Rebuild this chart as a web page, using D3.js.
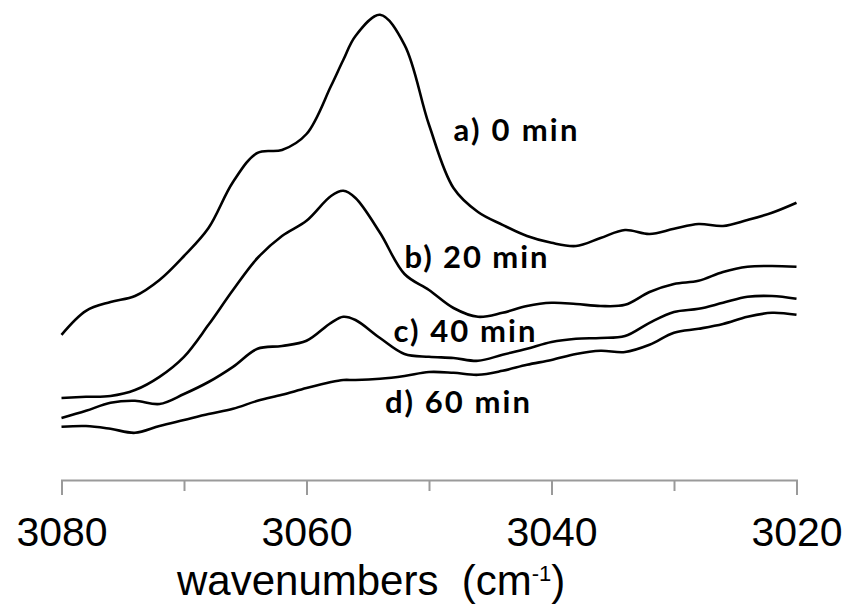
<!DOCTYPE html>
<html>
<head>
<meta charset="utf-8">
<script src="https://cdn.jsdelivr.net/npm/d3@7"></script>
<style>
  body{margin:0;background:#fff;}
  svg{display:block;}
</style>
</head>
<body>
<svg id="chart" width="850" height="609"></svg>
<script>
// wavenumber grid (cm-1); extra point at 3057 for the b/c peaks
var wavenumbers=[3080,3078,3076,3074,3072,3070,3068,3066,3064,3062,3060,3058,3057,3056,3054,3052,3050,3048,3046,3044,3042,3040,3038,3036,3034,3032,3030,3028,3026,3024,3022,3020];

// absorbance, arbitrary units
var min0 =[36.3,42.3,44.5,46.0,50.0,56.0,63.0,74.5,81.8,82.5,86.5,98.5,105.0,111.0,116.3,108.8,88.8,73.0,67.0,63.8,61.0,59.3,58.5,60.5,62.5,61.5,62.8,64.0,63.5,65.0,66.8,69.3];
var min20=[20.5,20.8,21.0,22.5,25.8,30.8,38.8,47.5,55.5,61.0,64.8,71.0,72.3,70.5,61.8,51.5,47.5,43.0,40.8,41.8,43.5,44.3,44.0,43.5,43.8,47.0,49.0,49.8,52.0,53.3,53.5,53.3];
var min40=[15.5,17.3,19.3,19.8,19.0,21.5,24.5,28.3,32.8,33.5,34.8,39.3,40.8,40.0,35.5,31.5,30.8,30.5,29.8,31.3,32.8,34.5,35.3,35.5,36.0,39.3,42.0,42.8,44.3,45.8,46.0,45.3];
var min60=[13.3,13.5,12.8,11.8,13.5,15.0,16.5,17.8,19.8,21.3,23.0,24.5,25.0,25.0,25.3,26.0,27.0,26.8,26.3,27.3,28.8,30.0,31.5,32.3,32.0,33.8,36.8,37.8,39.0,40.8,41.8,41.3];

var labels=['a) 0 min','b) 20 min','c) 40 min','d) 60 min'];
// where each label starts, as wavenumber / absorbance
var labelWn=[3048.0,3052.0,3052.9,3053.6];
var labelAbs=[84.8,53.0,34.5,16.8];
var labelWidth=[124,143,142,145];

var tickMajor=[3080,3060,3040,3020];
var tickMinor=[3070,3050,3030];

var svg=d3.select('#chart');
var x=d3.scaleLinear().domain([3080,3020]).range([61.5,796.5]);
var y=d3.scaleLinear().domain([0,120]).range([480,0]);

var series=[min0,min20,min40,min60];

var line=d3.line()
  .x(d=>x(d.wn))
  .y(d=>y(d.v))
  .curve(d3.curveCatmullRom.alpha(0.5));

series.forEach(function(vals){
  var pts=wavenumbers.map((wn,i)=>({wn:wn,v:vals[i]}));
  svg.append('path')
    .datum(pts)
    .attr('d',line)
    .attr('fill','none')
    .attr('stroke','#000')
    .attr('stroke-width',2.6)
    .attr('stroke-linejoin','round');
});

// minor ticks, no labels
var axMinor=svg.append('g').attr('transform','translate(0,480)')
  .call(d3.axisBottom(x).tickValues(tickMinor).tickSize(11).tickFormat(''));
axMinor.select('.domain').remove();

var ax=svg.append('g').attr('transform','translate(0,480)')
  .call(d3.axisBottom(x).tickValues(tickMajor).tickSize(15).tickSizeOuter(15).tickFormat(d3.format('d')));

svg.selectAll('.tick line').attr('stroke','#9a9a9a').attr('stroke-width',2);
ax.select('.domain').attr('stroke','#9a9a9a').attr('stroke-width',2);
ax.selectAll('.tick text')
  .attr('y',37)
  .attr('fill','#000')
  .style('font-family','"Liberation Sans", Arial, sans-serif')
  .style('font-size','41px');

// axis title
var title=svg.append('text')
  .attr('x',177).attr('y',595)
  .attr('xml:space','preserve')
  .style('font-family','"Liberation Sans", Arial, sans-serif')
  .style('font-size','42px')
  .attr('fill','#000');
title.append('tspan').text('wavenumbers  (cm');
title.append('tspan').text('-1').style('font-size','22px').attr('dy',-14);
title.append('tspan').text(')').attr('dy',14);

// curve labels
labels.forEach(function(t,i){
  svg.append('text')
    .attr('x',x(labelWn[i]))
    .attr('y',y(labelAbs[i]))
    .attr('textLength',labelWidth[i])
    .attr('xml:space','preserve')
    .style('font-family','Lato, "Open Sans", sans-serif')
    .style('font-weight',700)
    .style('font-size','31px')
    .attr('fill','#000')
    .text(t);
});
</script>
</body>
</html>
